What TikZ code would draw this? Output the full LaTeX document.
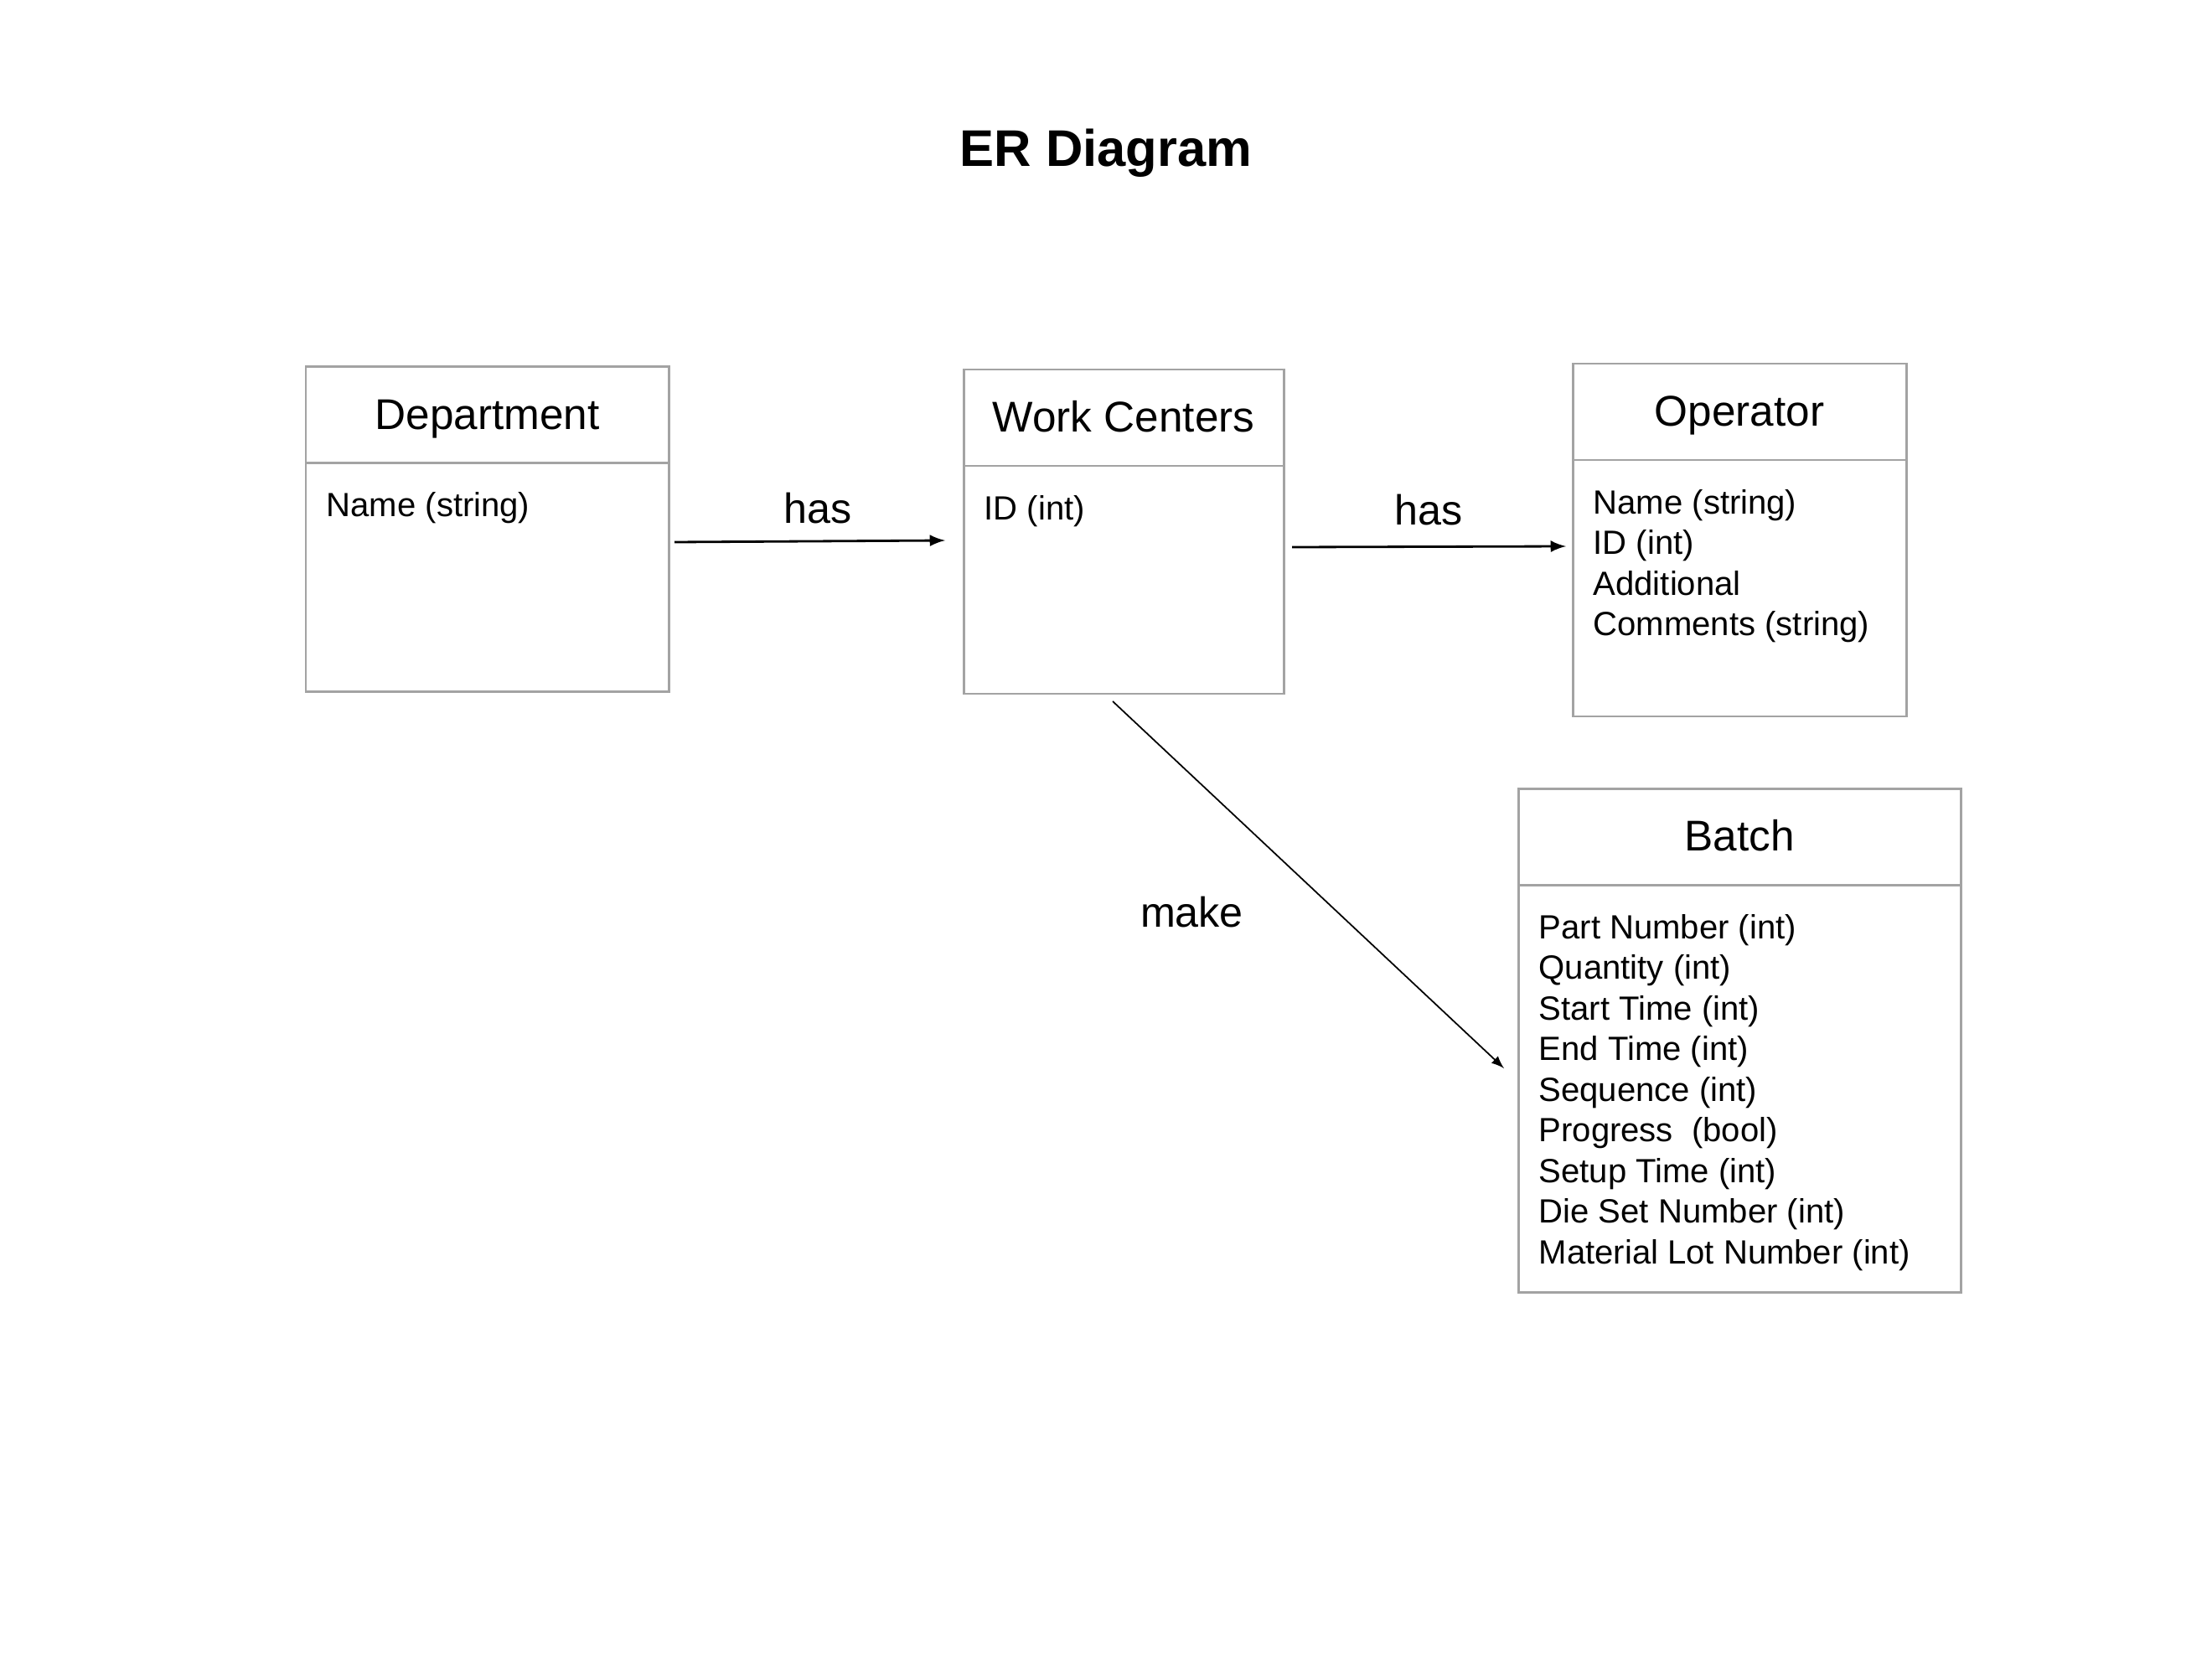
\documentclass[tikz,border=0pt]{standalone}
\usepackage{fontspec}
\setmainfont{Liberation Sans}
\usetikzlibrary{positioning}

\definecolor{boxline}{gray}{0.64}

\begin{document}
\begin{tikzpicture}[
		entity/.style={draw=boxline, line width=0.85pt, outer sep=0pt, inner sep=0pt,
			text height=1.2em, text depth=0.21em, font=\fontsize{14.6}{17}\selectfont},
		attrs/.style={anchor=north west, align=left, inner xsep=0.24cm, inner ysep=0.345cm,
			font=\fontsize{11.4}{13.8}\selectfont},
		rel/.style={-latex, line width=0.8pt},
		relname/.style={font=\fontsize{14.3}{17}\selectfont}
	]
		% Page size and header height
		\def\pageW{26.4}
		\def\pageH{19.8}
		\def\headH{1.15cm}
		
		\fill[white] (0,0) rectangle (\pageW,-\pageH);
		\useasboundingbox (0,0) rectangle (\pageW,-\pageH);
		
		% Title
		\node[font=\fontsize{17.5}{21}\selectfont\bfseries] (title) at (13.2,-1.83) {ER Diagram};
		
		% Position of the entity headers
		\coordinate (D) at (5.815,-4.95);
		\coordinate (W) at (13.41,-4.985);
		\coordinate (O) at (20.76,-4.915);
		\coordinate (B) at (20.76,-9.985);
		
		% Draw the entity "Department"
		\node[entity, minimum width=4.33cm, minimum height=\headH] (dept) at (D) {Department};
		\node[entity, minimum width=4.33cm, minimum height=2.73cm, below=0cm of dept] (deptbody) {};
		\node[attrs] (deptattr) at (deptbody.north west) {Name (string)};
		
		% Draw the entity "Work Centers"
		\node[entity, minimum width=3.82cm, minimum height=\headH] (wc) at (W) {Work Centers};
		\node[entity, minimum width=3.82cm, minimum height=2.72cm, below=0cm of wc] (wcbody) {};
		\node[attrs] (wcattr) at (wcbody.north west) {ID (int)};
		
		% Draw the entity "Operator"
		\node[entity, minimum width=3.98cm, minimum height=\headH] (op) at (O) {Operator};
		\node[entity, minimum width=3.98cm, minimum height=3.06cm, below=0cm of op] (opbody) {};
		\node[attrs] (opattr) at (opbody.north west) {Name (string)\\ID (int)\\Additional\\Comments (string)};
		
		% Draw the entity "Batch"
		\node[entity, minimum width=5.28cm, minimum height=\headH] (batch) at (B) {Batch};
		\node[entity, minimum width=5.28cm, minimum height=4.86cm, below=0cm of batch] (batchbody) {};
		\node[attrs] (batchattr) at (batchbody.north west) {Part Number (int)\\Quantity (int)\\Start Time (int)\\End Time (int)\\Sequence (int)\\Progress~~(bool)\\Setup Time (int)\\Die Set Number (int)\\Material Lot Number (int)};
		
		% Department has Work Centers
		\draw[rel] ([xshift=0.07cm,yshift=0.42cm]deptbody.east) -- ([xshift=-0.22cm,yshift=0.47cm]wcbody.west)
			node[relname, pos=0.53, above=0.08cm] (has1) {has};
		
		% Work Centers has Operator
		\draw[rel] ([xshift=0.10cm,yshift=0.39cm]wcbody.east) -- ([xshift=-0.08cm,yshift=0.50cm]opbody.west)
			node[relname, midway, above=0.12cm] (has2) {has};
		
		% Work Centers make Batch
		\draw[rel, line width=0.5pt] ([xshift=-0.13cm,yshift=-0.09cm]wcbody.south) -- ([xshift=-0.17cm,yshift=0.24cm]batchbody.west)
			node[relname, pos=0.575, left=1cm] (make) {make};
	\end{tikzpicture}
\end{document}
